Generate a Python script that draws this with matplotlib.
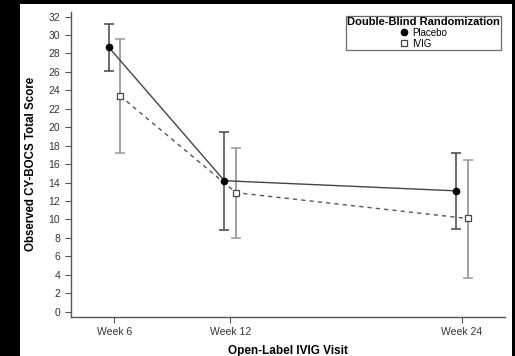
import matplotlib.pyplot as plt
from matplotlib.patches import Rectangle

plt.rcParams['font.family'] = ['Liberation Sans', 'DejaVu Sans']

weeks = [6, 12, 24]
week_labels = ["Week 6", "Week 12", "Week 24"]

placebo_mean = [28.7, 14.2, 13.1]
placebo_low = [26.1, 8.9, 9.0]
placebo_high = [31.2, 19.5, 17.2]

ivig_mean = [23.4, 12.9, 10.1]
ivig_low = [17.2, 8.0, 3.7]
ivig_high = [29.6, 17.7, 16.4]

fig = plt.figure(figsize=(5.15, 3.56), dpi=100, facecolor="black")
# white page inside the black frame
fig.patches.append(Rectangle((20 / 515, 0), 492 / 515, 352 / 356,
	transform=fig.transFigure, facecolor="white", edgecolor="none", zorder=-10))

ax = fig.add_axes([0.1373, 0.1104, 0.8433, 0.856])
ax.set_facecolor("white")

xp = [w - 0.3 for w in weeks]
xi = [w + 0.3 for w in weeks]

yerr_p = [[m - l for m, l in zip(placebo_mean, placebo_low)],
	[h - m for m, h in zip(placebo_mean, placebo_high)]]
yerr_i = [[m - l for m, l in zip(ivig_mean, ivig_low)],
	[h - m for m, h in zip(ivig_mean, ivig_high)]]

ax.errorbar(xp, placebo_mean, yerr=yerr_p, fmt="none", ecolor="#444444",
	elinewidth=1.1, capsize=3.5, capthick=1.1, zorder=2)
ax.errorbar(xi, ivig_mean, yerr=yerr_i, fmt="none", ecolor="#999999",
	elinewidth=1.3, capsize=3.5, capthick=1.1, zorder=2)

ax.plot(xp, placebo_mean, color="#444444", lw=1.0, ls="-", zorder=3)
ax.plot(xi, ivig_mean, color="#555555", lw=1.0, ls=(0, (3, 3)), zorder=3)

ax.plot(xp, placebo_mean, ls="none", marker="o", ms=4.5, color="black",
	label="Placebo", zorder=4)
ax.plot(xi, ivig_mean, ls="none", marker="s", ms=4.2, mfc="white",
	mec="#444444", mew=0.9, label="IVIG", zorder=4)

ax.set_xlim(3.74, 26.24)
ax.set_ylim(-0.55, 32.5)
ax.set_xticks(weeks)
ax.set_xticklabels(week_labels)
ax.set_yticks(range(0, 33, 2))

for s in ["top", "right"]:
	ax.spines[s].set_visible(False)
for s in ["left", "bottom"]:
	ax.spines[s].set_color("#555555")
	ax.spines[s].set_linewidth(1.0)
ax.tick_params(colors="#555555", labelcolor="#333333", labelsize=7.5,
	length=4, width=0.8)

ax.set_xlabel("Open-Label IVIG Visit", fontsize=8.5, fontweight="bold", labelpad=6)
ax.set_ylabel("Observed CY-BOCS Total Score", fontsize=8.3, fontweight="bold", labelpad=8)

leg = ax.legend(title="Double-Blind Randomization", loc="upper right",
	bbox_to_anchor=(0.991, 0.987), fontsize=7, title_fontsize=8,
	frameon=True, fancybox=False, edgecolor="#444444", handlelength=0.8,
	handletextpad=0.5, borderpad=0.1, labelspacing=0.1, borderaxespad=0.0)
leg.get_title().set_fontweight("bold")
leg.get_frame().set_linewidth(0.9)
leg._legend_box.align = "center"

fig.savefig("out.png", dpi=100, facecolor=fig.get_facecolor())
